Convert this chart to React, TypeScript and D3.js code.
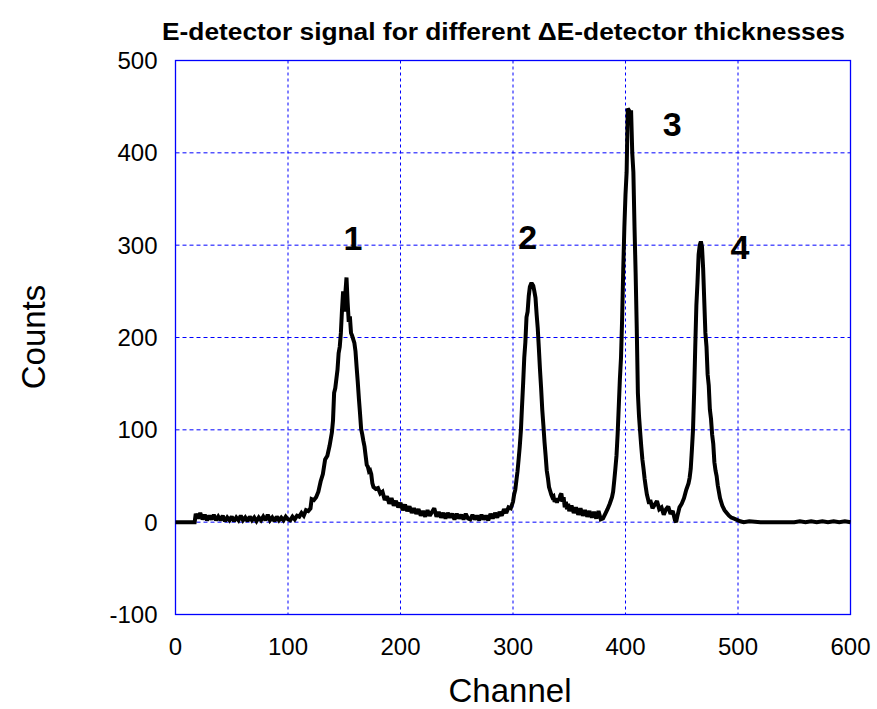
import React from "react";
import * as d3 from "d3";

const channels = [0,17,18,20,22,24,26,28,30,32,34,36,38,40,42,44,46,48,50,52,54,56,58,60,62,64,66,68,70,72,74,76,78,80,82,84,86,88,90,92,94,96,98,100,102,104,106,108,110,112,114,116,118,120,121,123,125,127,129,131,133,135,137,139,140,141,142,143,144,145,146,147,148,149,150,151,152,153,154,155,156,157,158,159,160,161,162,163,164,165,166,167,168,169,170,171,172,173,174,175,176,177,178,180,182,184,186,188,190,192,194,196,198,200,202,204,206,208,210,212,214,216,218,220,222,224,226,228,230,232,234,236,238,240,242,244,246,248,250,252,254,256,258,260,262,264,266,268,270,272,274,276,278,280,282,284,286,288,290,292,294,296,298,300,301,302,303,304,305,306,307,308,309,310,311,312,313,314,315,316,317,318,319,320,321,322,323,324,325,326,327,328,329,330,331,332,333,334,335,336,337,338,339,340,341,342,343,344,345,346,347,348,349,350,352,354,356,358,360,362,364,366,368,370,372,374,376,378,380,382,384,386,388,389,390,391,392,393,394,395,396,397,398,399,400,401,402,403,404,405,406,407,408,409,410,411,412,413,414,415,416,417,418,419,420,421,422,424,426,428,430,432,434,436,438,440,442,444,445,446,448,450,452,454,456,457,458,459,460,461,462,463,464,465,466,467,468,469,470,471,472,473,474,475,476,477,478,479,480,481,482,484,486,488,490,492,494,496,498,500,502,505,510,520,530,540,550,555,560,565,570,575,580,585,590,595,600];

const counts = [0,0,9,4,10,3,8,2,7,3,8,2,6,2,7,1,5,2,6,1,5,2,7,2,5,1,6,2,5,1,5,2,6,2,8,2,5,1,6,2,5,2,6,3,2,6,3,7,6,10,7,13,12,15,25,24,27,33,44,52,68,72,83,97,110,140,145,155,165,183,190,205,230,250,228,248,265,238,217,223,205,202,198,194,185,168,152,134,118,101,95,88,82,72,62,60,55,56,52,42,38,37,36,37,31,33,24,28,20,26,18,23,16,21,13,19,12,17,10,15,9,14,7,12,6,13,7,11,15,6,11,5,10,4,10,5,9,3,9,4,8,3,9,4,3,8,3,7,2,8,3,7,2,9,4,10,5,11,7,14,10,16,15,22,30,35,45,55,68,82,99,125,150,178,195,222,228,245,255,258,258,256,250,243,225,210,188,165,145,122,105,87,72,56,48,38,34,30,27,28,22,25,21,26,23,29,31,22,27,16,22,14,20,12,18,10,16,8,15,7,13,6,12,5,11,4,12,3,4,9,14,20,27,33,45,58,72,95,125,155,178,220,274,320,355,379,448,446,444,444,400,379,320,270,210,140,115,98,82,68,58,47,38,30,25,20,24,15,19,23,14,16,8,14,17,9,12,2,0,6,16,20,26,35,42,48,58,78,100,140,190,235,260,290,300,304,298,275,240,205,190,160,148,122,112,95,85,65,56,50,40,26,18,13,10,7,5,4,3,2,1,0,1,0,0,0,0,1,0,1,0,1,0,1,0,1,0];

const xTicks = [0, 100, 200, 300, 400, 500, 600];
const yTicks = [-100, 0, 100, 200, 300, 400, 500];

const peakLabels = ["1", "2", "3", "4"];
const peakLabelChannels = [157.8, 313, 441.5, 501.8];
const peakLabelCounts = [295, 296, 418, 285];

const title = "E-detector signal for different \u0394E-detector thicknesses";
const xTitle = "Channel";
const yTitle = "Counts";

export default function App() {
  const W = 877, H = 709;
  const left = 175.5, right = 850.5, top = 60.5, bottom = 614.5;
  const x = d3.scaleLinear().domain([0, 600]).range([left, right]);
  const y = d3.scaleLinear().domain([-100, 500]).range([bottom, top]);
  const data = channels.map((c, i) => [c, counts[i]] as [number, number]);
  const line = d3.line<[number, number]>().x(d => x(d[0])).y(d => y(d[1]));
  const font = "'Liberation Sans', Arial, sans-serif";
  const blue = "#0000ff";
  return (
    <svg width={W} height={H} style={{ position: "absolute", left: 0, top: 0, background: "#fff" }}>
      <rect x={0} y={0} width={W} height={H} fill="#fff" />
      {xTicks.slice(1, -1).map(t => (
        <line key={"gx" + t} x1={x(t)} x2={x(t)} y1={top} y2={bottom} stroke={blue} strokeWidth={1} strokeDasharray="3,3" />
      ))}
      {yTicks.slice(1, -1).map(t => (
        <line key={"gy" + t} x1={left} x2={right} y1={y(t)} y2={y(t)} stroke={blue} strokeWidth={1} strokeDasharray="4,3" />
      ))}
      <rect x={left} y={top} width={right - left} height={bottom - top} fill="none" stroke={blue} strokeWidth={1.3} />
      <path d={line(data) || ""} fill="none" stroke="#000" strokeWidth={4} strokeLinejoin="miter" strokeMiterlimit={2} />
      {xTicks.map(t => (
        <text key={"tx" + t} x={x(t)} y={bottom + 40} textAnchor="middle" fontFamily={font} fontSize={24} fill="#000">{t}</text>
      ))}
      {yTicks.map(t => (
        <text key={"ty" + t} x={left - 18} y={y(t) + 8.5} textAnchor="end" fontFamily={font} fontSize={24} fill="#000">{t}</text>
      ))}
      {peakLabels.map((l, i) => (
        <text key={"pl" + l} x={x(peakLabelChannels[i])} y={y(peakLabelCounts[i])} textAnchor="middle" fontFamily={font} fontWeight="bold" fontSize={34} fill="#000">{l}</text>
      ))}
      <text x={503.5} y={40} textAnchor="middle" fontFamily={font} fontWeight="bold" fontSize={23} textLength={683} lengthAdjust="spacingAndGlyphs" fill="#000">{title}</text>
      <text x={510} y={702} textAnchor="middle" fontFamily={font} fontSize={33} fill="#000">{xTitle}</text>
      <text transform={`translate(45,337) rotate(-90)`} textAnchor="middle" fontFamily={font} fontSize={33} fill="#000">{yTitle}</text>
    </svg>
  );
}
